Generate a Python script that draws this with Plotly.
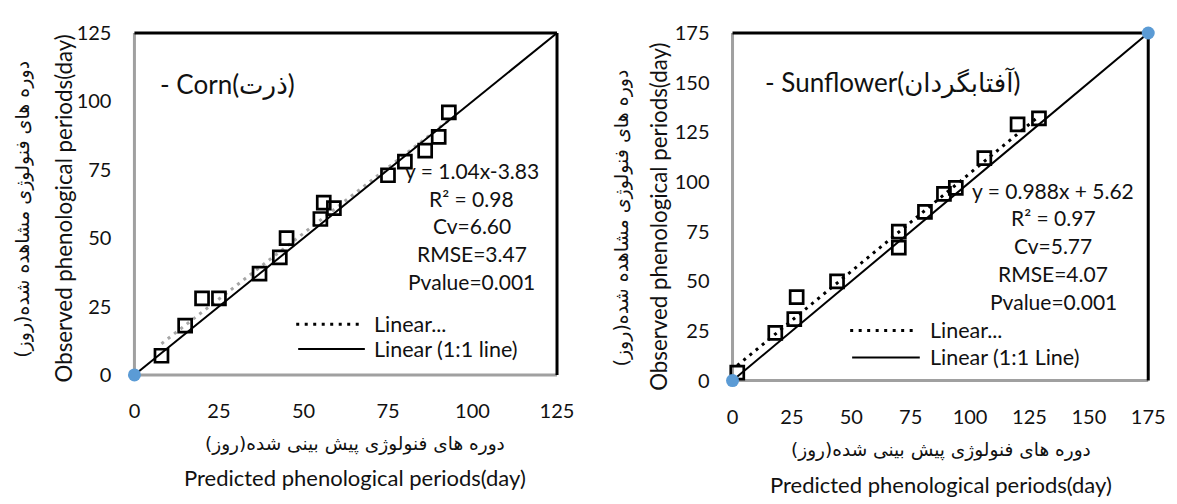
import plotly.graph_objects as go

W, H = 1177, 504

# ---------------- data ----------------
corn_pred = [8, 15, 20, 25, 37, 43, 45, 55, 56, 59, 75, 80, 86, 90, 93]
corn_obs = [7, 18, 28, 28, 37, 43, 50, 57, 63, 61, 73, 78, 82, 87, 96]
corn_trend_x = [8, 93]
corn_trend_y = [11.4, 93.1]
corn_line_x = [0, 125]
corn_line_y = [0, 125]
corn_anchor_x = [0]
corn_anchor_y = [0]
corn_ticks = [0, 25, 50, 75, 100, 125]

sun_pred = [2, 18, 27, 26, 44, 70, 70, 81, 89, 94, 106, 120, 129]
sun_obs = [4, 24, 42, 31, 50, 75, 67, 85, 94, 97, 112, 129, 132]
sun_trend_x = [2, 129]
sun_trend_y = [7.6, 133.1]
sun_line_x = [0, 175]
sun_line_y = [0, 175]
sun_anchor_x = [0, 175]
sun_anchor_y = [0, 175]
sun_ticks = [0, 25, 50, 75, 100, 125, 150, 175]

corn_label = "- Corn(ذرت)"
sun_label = "- Sunflower(آفتابگردان)"
corn_stats = ["y = 1.04x-3.83", "R² = 0.98", "Cv=6.60", "RMSE=3.47", "Pvalue=0.001"]
sun_stats = ["y = 0.988x + 5.62", "R² = 0.97", "Cv=5.77", "RMSE=4.07", "Pvalue=0.001"]
corn_legend = ["Linear...", "Linear (1:1 line)"]
sun_legend = ["Linear...", "Linear (1:1 Line)"]
x_title_en = "Predicted phenological periods(day)"
y_title_en = "Observed phenological periods(day)"
x_title_fa = "دوره های فنولوژی پیش بینی شده(روز)\u200f"
y_title_fa = "دوره های فنولوژی مشاهده شده(روز)\u200f"

LAT = "Lato, Carlito, Calibri, 'DejaVu Sans', sans-serif"
FA = "'DejaVu Sans', sans-serif"
BLUE = "#5b9bd5"


def px(x):
    return x / W


def py(y):
    return 1 - y / H


fig = go.Figure()

# ---------------- corn panel ----------------
fig.add_trace(go.Scatter(x=corn_trend_x, y=corn_trend_y, mode="lines",
                         line=dict(color="#a6a6a6", width=3, dash="3px,5px"),
                         xaxis="x", yaxis="y", showlegend=False, hoverinfo="skip"))
fig.add_trace(go.Scatter(x=corn_line_x, y=corn_line_y, mode="lines",
                         line=dict(color="black", width=2),
                         xaxis="x", yaxis="y", showlegend=False, hoverinfo="skip"))
fig.add_trace(go.Scatter(x=corn_pred, y=corn_obs, mode="markers",
                         marker=dict(symbol="square-open", size=13, color="black",
                                     line=dict(width=2.7, color="black")),
                         xaxis="x", yaxis="y", showlegend=False, cliponaxis=False))
fig.add_trace(go.Scatter(x=corn_anchor_x, y=corn_anchor_y, mode="markers",
                         marker=dict(symbol="circle", size=13, color=BLUE),
                         xaxis="x", yaxis="y", showlegend=False, cliponaxis=False))

# ---------------- sunflower panel ----------------
fig.add_trace(go.Scatter(x=sun_trend_x, y=sun_trend_y, mode="lines",
                         line=dict(color="black", width=3, dash="3px,5px"),
                         xaxis="x2", yaxis="y2", showlegend=False, hoverinfo="skip"))
fig.add_trace(go.Scatter(x=sun_line_x, y=sun_line_y, mode="lines",
                         line=dict(color="black", width=2),
                         xaxis="x2", yaxis="y2", showlegend=False, hoverinfo="skip"))
fig.add_trace(go.Scatter(x=sun_pred, y=sun_obs, mode="markers",
                         marker=dict(symbol="square-open", size=13, color="black",
                                     line=dict(width=2.7, color="black")),
                         xaxis="x2", yaxis="y2", showlegend=False, cliponaxis=False))
fig.add_trace(go.Scatter(x=sun_anchor_x, y=sun_anchor_y, mode="markers",
                         marker=dict(symbol="circle", size=13, color=BLUE),
                         xaxis="x2", yaxis="y2", showlegend=False, cliponaxis=False))

axis_common = dict(showgrid=False, zeroline=False, showline=False, ticks="",
                   tickfont=dict(family=LAT, size=20, color="#111"), fixedrange=True)

fig.update_layout(
    width=W, height=H, margin=dict(l=0, r=0, t=0, b=0),
    paper_bgcolor="white", plot_bgcolor="white", showlegend=False,
    xaxis=dict(domain=[px(131), px(562)], anchor="y", range=[0, 125],
               tickvals=corn_ticks, ticklabelstandoff=22, **axis_common),
    yaxis=dict(domain=[py(380), py(21)], anchor="x", range=[0, 125],
               tickvals=corn_ticks, ticklabelstandoff=22, **axis_common),
    xaxis2=dict(domain=[px(741), px(1165)], anchor="y2", range=[0, 175],
                tickvals=sun_ticks, ticklabelstandoff=22, **axis_common),
    yaxis2=dict(domain=[py(386), py(21)], anchor="x2", range=[0, 175],
                tickvals=sun_ticks, ticklabelstandoff=22, **axis_common),
)

# frames: gray left/bottom, black top/right
shapes = []
for xr, yr in (("x domain", "y domain"), ("x2 domain", "y2 domain")):
    shapes += [
        dict(type="line", xref=xr, yref=yr, x0=0, x1=0, y0=0, y1=1,
             line=dict(color="#a0a0a0", width=3), layer="below"),
        dict(type="line", xref=xr, yref=yr, x0=0, x1=1, y0=0, y1=0,
             line=dict(color="#a0a0a0", width=3), layer="below"),
        dict(type="line", xref=xr, yref=yr, x0=0, x1=1, y0=1, y1=1,
             line=dict(color="black", width=3), layer="below"),
        dict(type="line", xref=xr, yref=yr, x0=1, x1=1, y0=0, y1=1,
             line=dict(color="black", width=3), layer="below"),
    ]

# custom legend keys
legend_spec = [
    # (x0, x1, y, dotted)
    (296, 364, 326.7, True), (298, 366, 352.7, False),
    (861, 930, 333.3, True), (863, 932, 361.7, False),
]
for x0, x1, y, dotted in legend_spec:
    shapes.append(dict(type="line", xref="paper", yref="paper",
                       x0=px(x0), x1=px(x1), y0=py(y), y1=py(y),
                       line=dict(color="black", width=3 if dotted else 2,
                                 dash="3px,5.5px" if dotted else "solid")))
fig.update_layout(shapes=shapes)

ann = []


def text(x, y, s, size, family=LAT, xanchor="center", angle=0):
    ann.append(dict(x=px(x), y=py(y), xref="paper", yref="paper", text=s,
                    showarrow=False, xanchor=xanchor, yanchor="middle",
                    textangle=angle, font=dict(family=family, size=size, color="#111")))


# panel labels
text(155, 75, corn_label, 26, xanchor="left")
text(772, 73.3, sun_label, 26, xanchor="left")

# stats blocks
for i, s in enumerate(corn_stats):
    text(475, [165.7, 195, 223.3, 252.3, 281.7][i], s, 21)
for i, s in enumerate(sun_stats):
    text(1068, [186.7, 215, 244, 274, 303.3][i], s, 21)

# legend texts
text(373, 326.7, corn_legend[0], 21.5, xanchor="left")
text(373, 352.7, corn_legend[1], 21.5, xanchor="left")
text(940, 333.3, sun_legend[0], 21.5, xanchor="left")
text(940, 361.7, sun_legend[1], 21.5, xanchor="left")

# axis titles
text(356, 453, x_title_fa, 18.5, family=FA)
text(356, 488, x_title_en, 22)
text(58.4, 205, y_title_en, 22.3, angle=-90)
text(17, 206, y_title_fa, 19, family=FA, angle=-90)

text(954, 459, x_title_fa, 18.5, family=FA)
text(954, 495, x_title_en, 22)
text(666, 214, y_title_en, 22.3, angle=-90)
text(628, 215, y_title_fa, 19, family=FA, angle=-90)

fig.update_layout(annotations=ann)

fig.write_html("out.html")
